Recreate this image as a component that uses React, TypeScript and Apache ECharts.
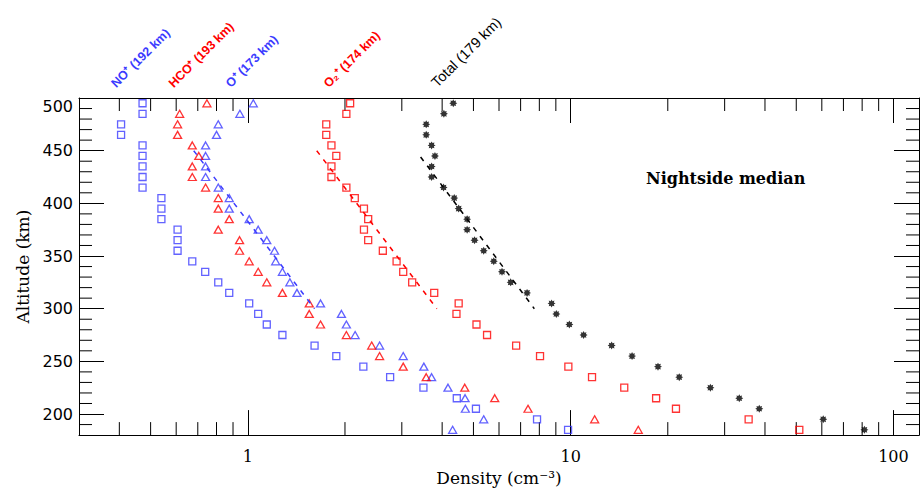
import React, { useEffect, useRef } from 'react';
import * as echarts from 'echarts';

// Altitude bins (km), top to bottom
const ALT = [495, 485, 475, 465, 455, 445, 435, 425, 415, 405, 395, 385, 375, 365, 355, 345,
  335, 325, 315, 305, 295, 285, 275, 265, 255, 245, 235, 225, 215, 205, 195, 185];

// Densities (cm^-3)
const NO_PLUS = [0.472, 0.472, 0.405, 0.405, 0.472, 0.472, 0.472, 0.472, 0.472, 0.54, 0.54, 0.54,
  0.606, 0.606, 0.606, 0.673, 0.738, 0.81, 0.876, 1.01, 1.077, 1.145, 1.28, 1.61, 1.88, 2.28, 2.76,
  3.5, 4.44, 5.09, 7.87, 9.82];
const HCO_PLUS = [0.747, 0.615, 0.606, 0.606, 0.673, 0.705, 0.673, 0.673, 0.74, 0.81, 0.81, 0.876,
  0.81, 0.943, 0.943, 1.01, 1.077, 1.145, 1.28, 1.55, 1.55, 1.68, 2.02, 2.42, 2.56, 3.03, 3.57, 4.7,
  5.82, 7.38, 11.87, 16.2];
const O_PLUS = [1.04, 0.945, 0.81, 0.8, 0.74, 0.74, 0.74, 0.74, 0.81, 0.876, 0.876, 1.01, 1.077,
  1.145, 1.21, 1.22, 1.28, 1.35, 1.42, 1.68, 1.95, 2.02, 2.15, 2.56, 3.03, 3.51, 3.71, 4.17, 4.71,
  4.72, 5.38, 4.31];
const O2_PLUS = [2.075, 2.02, 1.75, 1.75, 1.816, 1.88, 1.816, 1.816, 2.02, 2.145, 2.29, 2.36, 2.29,
  2.36, 2.62, 2.89, 3.03, 3.23, 3.78, 4.5, 4.43, 5.11, 5.51, 6.78, 8.04, 9.84, 11.65, 14.66, 18.4,
  21.2, 35.6, 51.1];
const TOTAL = [4.33, 4.05, 3.57, 3.57, 3.71, 3.8, 3.71, 3.71, 4.04, 4.36, 4.5, 4.78, 4.78, 5.04,
  5.38, 5.78, 6.13, 6.52, 7.33, 8.73, 9.03, 9.91, 10.97, 13.4, 15.5, 18.65, 21.7, 27.1, 33.3, 38.4,
  60.6, 81.3];

// Exponential fits (density, altitude) end points
const FIT_O_PLUS = [[0.68, 450], [1.61, 300]];
const FIT_O2_PLUS = [[1.635, 450], [3.85, 300]];
const FIT_TOTAL = [[3.43, 444], [7.72, 300]];

// Axis ranges and ticks
const X_MIN = 0.3;
const X_MAX = 120;
const Y_MIN = 180;
const Y_MAX = 500;
const X_MAJOR_LABELS = [1, 10, 100];
const X_MINOR = [0.4, 0.5, 0.6, 0.7, 0.8, 0.9, 2, 3, 4, 5, 6, 7, 8, 9, 20, 30, 40, 50, 60, 70, 80, 90];
const Y_MINOR = [190, 210, 220, 230, 240, 260, 270, 280, 290, 310, 320, 330, 340, 360, 370, 380, 390,
  410, 420, 430, 440, 460, 470, 480, 490];

// Peak labels
const PEAK_LABELS = ['NO⁺ (192 km)', 'HCO⁺ (193 km)', 'O⁺ (173 km)', 'O₂⁺ (174 km)', 'Total (179 km)'];

const BLUE = '#3b3bff';
const RED = '#ff0000';
const BLACK = '#000000';

const pairs = (xs: number[], ys: number[]) => xs.map((x, i) => [x, ys[i]]);

const starPath = (() => {
  let d = '';
  for (let k = 0; k < 16; k++) {
    const a = (k * Math.PI) / 8;
    const r = k % 2 === 0 ? 1 : 0.62;
    d += (k === 0 ? 'M' : 'L') + (r * Math.cos(a)).toFixed(3) + ' ' + (r * Math.sin(a)).toFixed(3) + ' ';
  }
  return 'path://' + d + 'Z';
})();

export default function App() {
  const ref = useRef<HTMLDivElement>(null);
  useEffect(() => {
    if (!ref.current) return;
    const chart = echarts.init(ref.current, null, { renderer: 'svg' });
    const isDecade = (v: number) => Math.abs(Math.log10(v) - Math.round(Math.log10(v))) < 1e-6;
    const hollow = (c: string) => ({ color: 'rgba(0,0,0,0)', borderColor: c, borderWidth: 1.3 });
    const peakColors = [BLUE, RED, BLUE, RED, BLACK];
    const peakFonts = [
      'bold 12.5px "Liberation Sans", Arial, sans-serif',
      'bold 12.5px "Liberation Sans", Arial, sans-serif',
      'bold 12.5px "Liberation Sans", Arial, sans-serif',
      'bold 12.5px "Liberation Sans", Arial, sans-serif',
      '14.5px "Liberation Sans", Arial, sans-serif',
    ];
    const peakPos = [[118, 90], [175.5, 90], [232.5, 90], [330.5, 90], [439, 90]];

    const option: any = {
      animation: false,
      backgroundColor: '#fff',
      grid: { left: 79, right: 3, top: 98, bottom: 55 },
      xAxis: [
        {
          type: 'log', logBase: 10, min: X_MIN, max: X_MAX, position: 'bottom',
          axisLine: { show: true, lineStyle: { color: '#000', width: 1 } },
          axisTick: { show: true, inside: true, length: 25, lineStyle: { color: '#000', width: 1 } },
          axisLabel: {
            color: '#000', fontFamily: 'DejaVu Serif', fontSize: 16, margin: 13,
            formatter: (v: number) => (isDecade(v) && X_MAJOR_LABELS.includes(Math.round(v)) ? String(Math.round(v)) : ''),
          },
          splitLine: { show: false },
          name: 'Density (cm⁻³)', nameLocation: 'middle', nameGap: 32,
          nameTextStyle: { color: '#000', fontFamily: 'DejaVu Serif', fontSize: 17 },
        },
        {
          type: 'log', logBase: 10, min: X_MIN, max: X_MAX, position: 'top',
          axisLine: { show: true, lineStyle: { color: '#000', width: 1 } },
          axisTick: { show: true, inside: true, length: 25, lineStyle: { color: '#000', width: 1 } },
          axisLabel: { show: false },
          splitLine: { show: false },
        },
      ],
      yAxis: [
        {
          type: 'value', min: Y_MIN, max: Y_MAX, splitNumber: 6, position: 'left',
          axisLine: { show: true, lineStyle: { color: '#000', width: 1 } },
          axisTick: { show: true, inside: true, length: 25, lineStyle: { color: '#000', width: 1 } },
          axisLabel: {
            color: '#000', fontFamily: 'DejaVu Sans', fontSize: 16, margin: 6,
            formatter: (v: number) => (v >= 200 && v % 50 === 0 ? String(v) : ''),
            verticalAlignMaxLabel: 'top',
          },
          splitLine: { show: false },
          name: 'Altitude (km)', nameLocation: 'middle', nameGap: 48, nameRotate: 90,
          nameTextStyle: { color: '#000', fontFamily: 'DejaVu Serif', fontSize: 17 },
        },
        {
          type: 'value', min: Y_MIN, max: Y_MAX, splitNumber: 6, position: 'right',
          axisLine: { show: true, lineStyle: { color: '#000', width: 1 } },
          axisTick: { show: true, inside: true, length: 25, lineStyle: { color: '#000', width: 1 } },
          axisLabel: { show: false },
          splitLine: { show: false },
        },
      ],
      series: [
        {
          type: 'custom', xAxisIndex: 0, yAxisIndex: 0, silent: true, clip: false, z: 1,
          data: X_MINOR.map((v) => [v, 300]),
          renderItem: (params: any, api: any) => {
            const cs = params.coordSys;
            const px = api.coord([api.value(0), api.value(1)])[0];
            const top = cs.y;
            const bottom = cs.y + cs.height;
            return {
              type: 'group',
              children: [
                { type: 'line', shape: { x1: px, y1: bottom, x2: px, y2: bottom - 13 }, style: { stroke: '#000', lineWidth: 1 } },
                { type: 'line', shape: { x1: px, y1: top, x2: px, y2: top + 13 }, style: { stroke: '#000', lineWidth: 1 } },
              ],
            };
          },
        },
        {
          type: 'custom', xAxisIndex: 0, yAxisIndex: 0, silent: true, clip: false, z: 1,
          data: Y_MINOR.map((v) => [1, v]),
          renderItem: (params: any, api: any) => {
            const cs = params.coordSys;
            const py = api.coord([api.value(0), api.value(1)])[1];
            const left = cs.x;
            const right = cs.x + cs.width;
            return {
              type: 'group',
              children: [
                { type: 'line', shape: { x1: left, y1: py, x2: left + 13, y2: py }, style: { stroke: '#000', lineWidth: 1 } },
                { type: 'line', shape: { x1: right, y1: py, x2: right - 13, y2: py }, style: { stroke: '#000', lineWidth: 1 } },
              ],
            };
          },
        },
        {
          type: 'line', name: 'O⁺ fit', data: FIT_O_PLUS, symbol: 'none', silent: true,
          lineStyle: { color: BLUE, width: 1.5, type: [5, 6] },
        },
        {
          type: 'line', name: 'O₂⁺ fit', data: FIT_O2_PLUS, symbol: 'none', silent: true,
          lineStyle: { color: RED, width: 1.5, type: [5, 6] },
        },
        {
          type: 'line', name: 'Total fit', data: FIT_TOTAL, symbol: 'none', silent: true,
          lineStyle: { color: BLACK, width: 1.5, type: [5, 6] },
        },
        {
          type: 'scatter', name: 'NO⁺', data: pairs(NO_PLUS, ALT), symbol: 'rect', symbolSize: 7,
          itemStyle: hollow(BLUE),
        },
        {
          type: 'scatter', name: 'O⁺', data: pairs(O_PLUS, ALT), symbol: 'triangle', symbolSize: [8, 7],
          itemStyle: hollow(BLUE),
        },
        {
          type: 'scatter', name: 'HCO⁺', data: pairs(HCO_PLUS, ALT), symbol: 'triangle', symbolSize: [8, 7],
          itemStyle: hollow(RED),
        },
        {
          type: 'scatter', name: 'O₂⁺', data: pairs(O2_PLUS, ALT), symbol: 'rect', symbolSize: 7,
          itemStyle: hollow(RED),
        },
        {
          type: 'scatter', name: 'Total', data: pairs(TOTAL, ALT), symbol: starPath, symbolSize: 8,
          itemStyle: { color: BLACK },
        },
      ],
      graphic: [
        ...PEAK_LABELS.map((t, i) => ({
          type: 'text', x: peakPos[i][0], y: peakPos[i][1], rotation: Math.PI / 4, silent: true,
          style: {
            text: t, fill: peakColors[i], font: peakFonts[i],
            align: 'left', verticalAlign: 'bottom',
          },
        })),
        {
          type: 'text', x: 646, y: 178, silent: true,
          style: {
            text: 'Nightside median', fill: '#000', font: 'bold 16px "DejaVu Serif", serif',
            align: 'left', verticalAlign: 'middle',
          },
        },
      ],
    };
    chart.setOption(option);
    return () => chart.dispose();
  }, []);
  return (
    <div
      ref={ref}
      style={{ position: 'fixed', left: 0, top: 0, width: 922, height: 491, background: '#fff' }}
    />
  );
}
